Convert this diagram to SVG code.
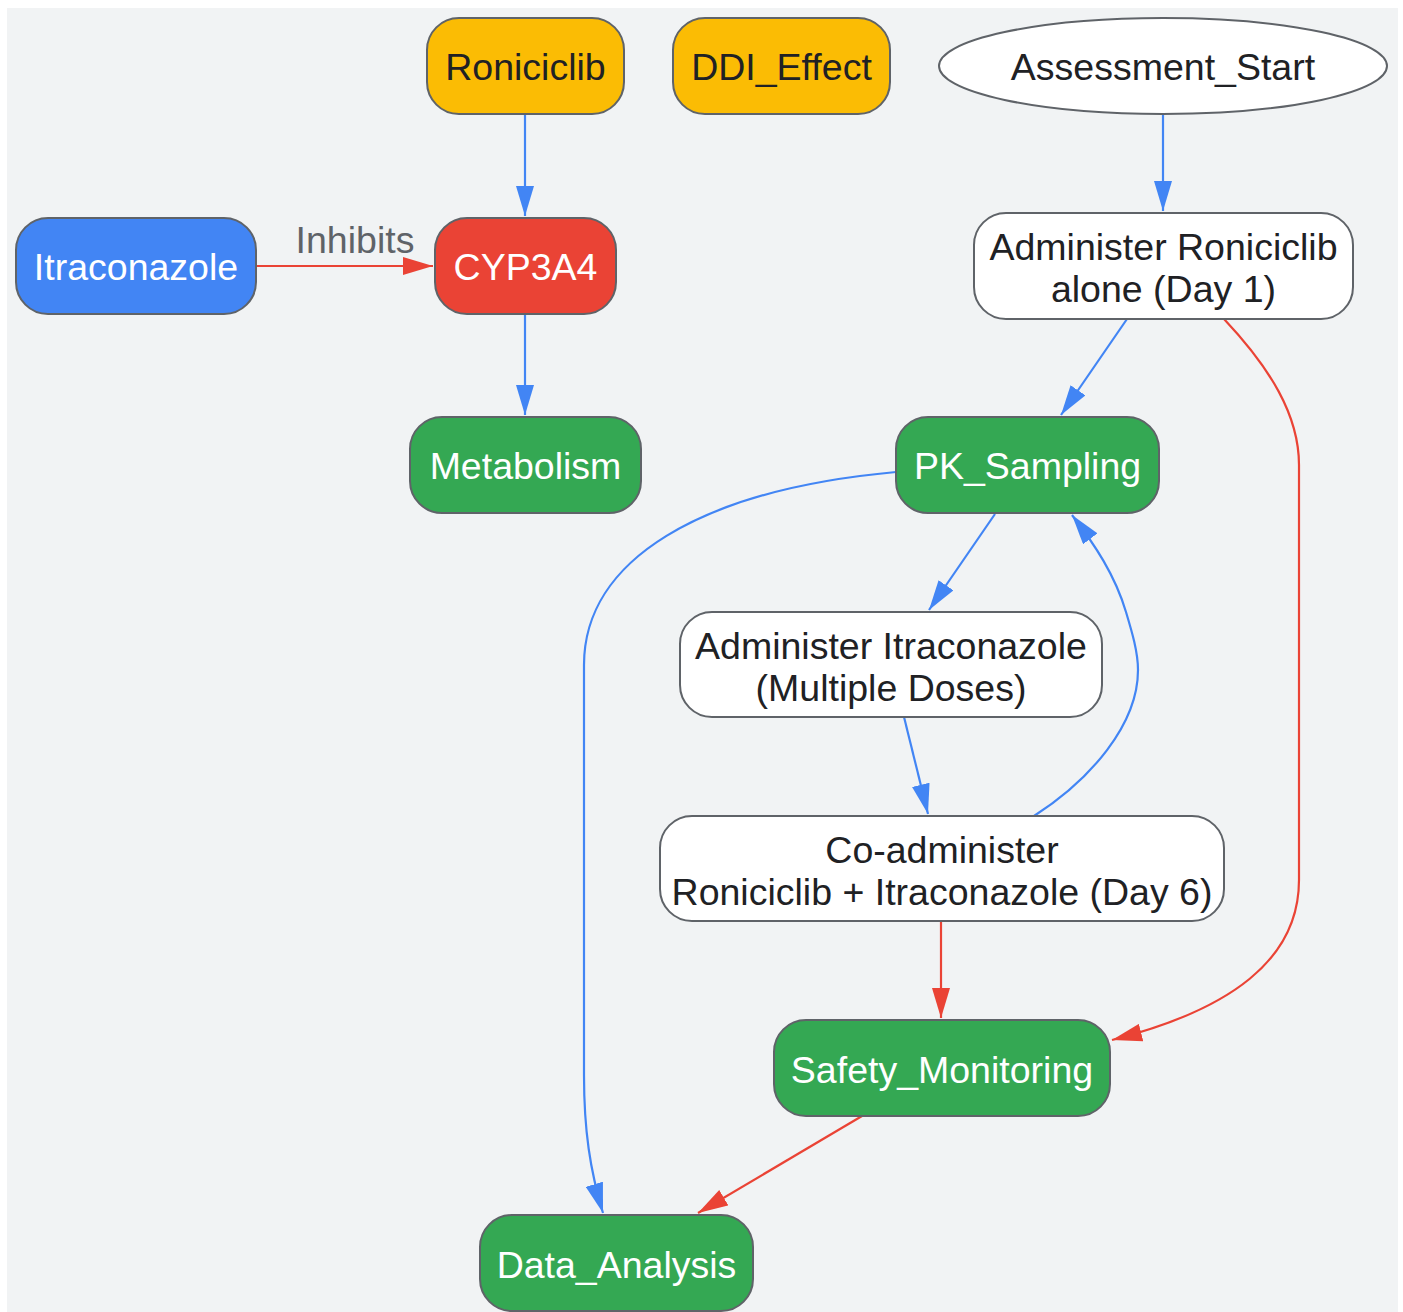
<svg xmlns="http://www.w3.org/2000/svg" width="1403" height="1312" viewBox="0 0 1403 1312">
<style>
.n{stroke:#5f6368;stroke-width:2}
.t{font-family:"Liberation Sans",Arial,sans-serif;font-size:37.5px;text-anchor:middle}
.d{fill:#202124}
.w{fill:#ffffff}
.e{fill:none;stroke-width:2.2}
.b{stroke:#4285f4}
.r{stroke:#ea4335}
</style>
<defs>
<marker id="ab" markerUnits="userSpaceOnUse" markerWidth="30" markerHeight="18" refX="30" refY="9" orient="auto" viewBox="0 0 30 18"><path d="M0,0 L30,9 L0,18 z" fill="#4285f4"/></marker>
<marker id="ar" markerUnits="userSpaceOnUse" markerWidth="30" markerHeight="18" refX="30" refY="9" orient="auto" viewBox="0 0 30 18"><path d="M0,0 L30,9 L0,18 z" fill="#ea4335"/></marker>
</defs>
<rect x="7" y="8" width="1391" height="1304" fill="#f1f3f4"/>
<g id="edges">
<path class="e b" d="M525,114 L525,216" marker-end="url(#ab)"/>
<path class="e r" d="M256,266 L433,266" marker-end="url(#ar)"/>
<text class="t" x="355" y="253" fill="#5f6368">Inhibits</text>
<path class="e b" d="M525,314 L525,415" marker-end="url(#ab)"/>
<path class="e b" d="M1163,114 L1163,211" marker-end="url(#ab)"/>
<path class="e b" d="M1127,319 L1061,415" marker-end="url(#ab)"/>
<path class="e r" d="M1224,319 C1270,368 1299,415 1299,465 L1299,880 C1299,960 1230,1010 1112,1040" marker-end="url(#ar)"/>
<path class="e b" d="M995,514 L929,610" marker-end="url(#ab)"/>
<path class="e b" d="M904,717 L928,814" marker-end="url(#ab)"/>
<path class="e b" d="M1034,816 C1090,780 1138,725 1138,670 C1138,652 1132,632 1126,612 C1115,575 1095,545 1072,515" marker-end="url(#ab)"/>
<path class="e b" d="M896,472 C700,490 584,560 584,665 L584,1075 C584,1130 590,1170 603,1213" marker-end="url(#ab)"/>
<path class="e r" d="M941,921 L941,1018" marker-end="url(#ar)"/>
<path class="e r" d="M862,1116 L698,1213" marker-end="url(#ar)"/>
</g>
<g id="Roniciclib"><rect class="n" x="427" y="18" width="197" height="96" rx="32" fill="#fbbc04"/><text class="t d" x="525.5" y="80">Roniciclib</text></g>
<g id="DDI_Effect"><rect class="n" x="673" y="18" width="217" height="96" rx="32" fill="#fbbc04"/><text class="t d" x="781.5" y="80">DDI_Effect</text></g>
<g id="Assessment_Start"><ellipse class="n" cx="1163" cy="66" rx="224" ry="48" fill="#ffffff"/><text class="t d" x="1163" y="80">Assessment_Start</text></g>
<g id="Itraconazole"><rect class="n" x="16" y="218" width="240" height="96" rx="32" fill="#4285f4"/><text class="t w" x="136" y="280">Itraconazole</text></g>
<g id="CYP3A4"><rect class="n" x="435" y="218" width="181" height="96" rx="32" fill="#ea4335"/><text class="t w" x="525.5" y="280">CYP3A4</text></g>
<g id="Metabolism"><rect class="n" x="410" y="417" width="231" height="96" rx="32" fill="#34a853"/><text class="t w" x="525.5" y="479">Metabolism</text></g>
<g id="Administer_Roniciclib"><rect class="n" x="974" y="213" width="379" height="106" rx="32" fill="#ffffff"/><text class="t d" x="1163.5" y="260">Administer Roniciclib</text><text class="t d" x="1163.5" y="302">alone (Day 1)</text></g>
<g id="PK_Sampling"><rect class="n" x="896" y="417" width="263" height="96" rx="32" fill="#34a853"/><text class="t w" x="1027.5" y="479">PK_Sampling</text></g>
<g id="Administer_Itraconazole"><rect class="n" x="680" y="612" width="422" height="105" rx="32" fill="#ffffff"/><text class="t d" x="891" y="659">Administer Itraconazole</text><text class="t d" x="891" y="701">(Multiple Doses)</text></g>
<g id="Co_administer"><rect class="n" x="660" y="816" width="564" height="105" rx="32" fill="#ffffff"/><text class="t d" x="942" y="863">Co-administer</text><text class="t d" x="942" y="905">Roniciclib + Itraconazole (Day 6)</text></g>
<g id="Safety_Monitoring"><rect class="n" x="774" y="1020" width="336" height="96" rx="32" fill="#34a853"/><text class="t w" x="942" y="1083">Safety_Monitoring</text></g>
<g id="Data_Analysis"><rect class="n" x="480" y="1215" width="273" height="96" rx="32" fill="#34a853"/><text class="t w" x="616.5" y="1278">Data_Analysis</text></g>
</svg>
